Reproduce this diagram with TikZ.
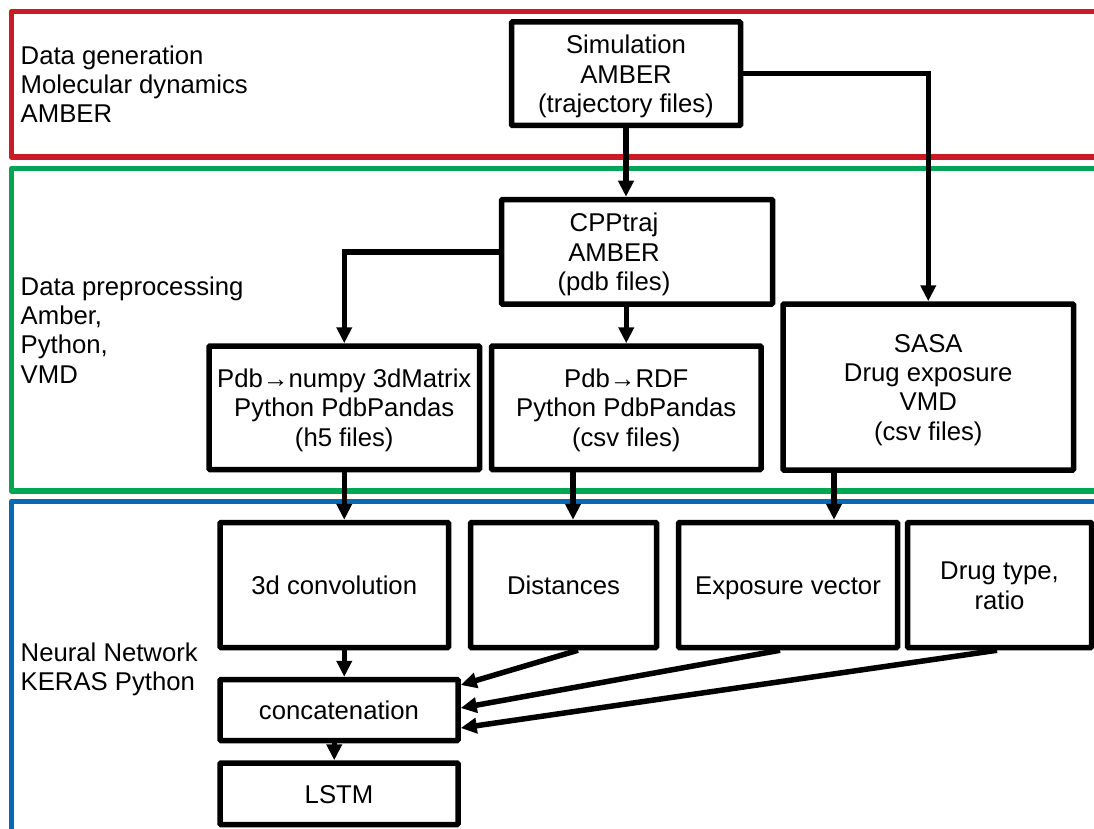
\documentclass[tikz,border=0pt]{standalone}
\usepackage{fontspec}
\setmainfont{Liberation Sans}
\usetikzlibrary{arrows.meta,calc}
\definecolor{bandred}{RGB}{204,26,34}
\definecolor{bandgreen}{RGB}{0,166,84}
\definecolor{bandblue}{RGB}{9,104,178}
\newcommand{\fs}{\rule[-5pt]{0pt}{29pt}}
\begin{document}
\begin{tikzpicture}[x=1pt,y=-1pt,
  every node/.style={font=\fontsize{25.7pt}{29.3pt}\selectfont},
  box/.style={draw=black,line width=5.5pt,rounded corners=1pt,align=center,inner sep=0pt},
  txt/.style={align=center,inner sep=0pt},
  lbl/.style={align=left,anchor=west,inner sep=0pt},
  band/.style={line width=5.5pt,line join=round},
  arr/.style={line width=5.5pt,-{Triangle[length=16pt,width=15pt]}}]
\useasboundingbox (0,0) rectangle (1094,829);
\begin{scope}
\clip (0,0) rectangle (1094,829);
\draw[band,bandred] (1110,11.5) -- (11.5,11.5) -- (11.5,157) -- (1110,157);
\draw[band,bandgreen] (1110,168.5) -- (11.5,168.5) -- (11.5,491) -- (1110,491);
\draw[band,bandblue] (1110,501.5) -- (11.5,501.5) -- (11.5,850);
\end{scope}

\node[lbl] (l1) at (20.5,84) {Data generation\\Molecular dynamics\\AMBER};
\node[lbl] (l2) at (20.5,330) {Data preprocessing\\Amber,\\Python,\\VMD};
\node[lbl] (l3) at (20.5,669) {Neural Network\\KERAS Python};

\node[box,minimum width=229pt,minimum height=103.5pt] (sim) at (626,73.75) {\fs Simulation\\AMBER\\\fs(trajectory files)};
\node[box,minimum width=271pt,minimum height=104.5pt] (cpp) at (637,251.75) {};
\node[txt] (cpptext) at (614,251.75) {\fs CPPtraj\\AMBER\\\fs(pdb files)};
\node[box,minimum width=270.5pt,minimum height=123.5pt] (np) at (344.25,407.75) {\fs Pdb→numpy 3dMatrix\\Python PdbPandas\\\fs(h5 files)};
\node[box,minimum width=269.5pt,minimum height=123.5pt] (rdf) at (626.25,407.75) {\fs Pdb→RDF\\Python PdbPandas\\\fs(csv files)};
\node[box,minimum width=290.5pt,minimum height=166pt] (sasa) at (928.25,387) {\fs SASA\\Drug exposure\\VMD\\\fs(csv files)};

\node[box,minimum width=228.5pt,minimum height=125pt] (conv) at (334.25,585) {\fs 3d convolution};
\node[box,minimum width=186pt,minimum height=125pt] (dist) at (563.5,585) {\fs Distances};
\node[box,minimum width=219pt,minimum height=125pt] (expo) at (788,585) {\fs Exposure vector};
\node[box,minimum width=184pt,minimum height=125pt] (drug) at (999.5,585) {\fs Drug type,\\\fs ratio};
\node[box,minimum width=238pt,minimum height=61pt] (concat) at (339,710) {\fs concatenation};
\node[box,minimum width=238pt,minimum height=61.5pt] (lstm) at (339,793.75) {\fs LSTM};

\coordinate (xd) at (573,0);
\coordinate (xe) at (834,0);

\draw[arr] (sim.south) -- (sim.south |- cpp.north);
\draw[arr] (sim.east) -- (sim.east -| sasa.north) -- (sasa.north);
\draw[arr] (cpp.west) -- (cpp.west -| np.north) -- (np.north);
\draw[arr] (rdf.north |- cpp.south) -- (rdf.north);

\draw[arr] (np.south) -- (np.south |- conv.north);
\draw[arr] (rdf.south -| xd) -- (dist.north -| xd);
\draw[arr] (sasa.south -| xe) -- (expo.north -| xe);

\draw[arr] (conv.south -| np.south) -- (concat.north -| np.south);
\draw[arr] ($(dist.south)+(14.5,0)$) -- ($(concat.east)+(0,-25)$);
\draw[arr] ($(expo.south)+(-8,0)$) -- ($(concat.east)+(0,-2)$);
\draw[arr] ($(drug.south)+(-2.5,0)$) -- ($(concat.east)+(0,18)$);
\draw[arr] (concat.south -| conv.south) -- (lstm.north -| conv.south);
\end{tikzpicture}
\end{document}
